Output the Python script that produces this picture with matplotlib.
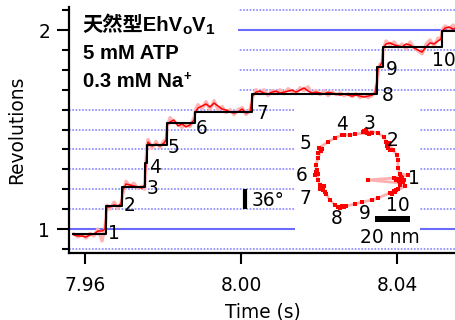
import matplotlib
matplotlib.use("Agg")
import matplotlib.pyplot as plt
from matplotlib.patches import Rectangle

# ---- trace: time (s) vs revolutions ----
red_time = [7.95718, 7.95821, 7.95923, 7.96026, 7.96128, 7.96231, 7.96333, 7.96436, 7.96513, 7.96538,
            7.96564, 7.96641, 7.96744, 7.96846, 7.96923, 7.96974, 7.97051, 7.97154, 7.97256, 7.97359,
            7.97462, 7.97526, 7.97551, 7.97564, 7.97590, 7.97615, 7.97718, 7.97821, 7.97923, 7.98026,
            7.98077, 7.98103, 7.98179, 7.98282, 7.98385, 7.98487, 7.98590, 7.98692, 7.98795, 7.98833,
            7.98897, 7.99000, 7.99103, 7.99205, 7.99308, 7.99410, 7.99513, 7.99615, 7.99718, 7.99821,
            7.99923, 8.00026, 8.00128, 8.00231, 8.00295, 8.00385, 8.00487, 8.00590, 8.00692, 8.00795,
            8.00897, 8.01000, 8.01103, 8.01205, 8.01308, 8.01410, 8.01513, 8.01615, 8.01718, 8.01821,
            8.01923, 8.02026, 8.02128, 8.02231, 8.02333, 8.02436, 8.02538, 8.02641, 8.02744, 8.02846,
            8.02949, 8.03051, 8.03154, 8.03256, 8.03359, 8.03436, 8.03487, 8.03513, 8.03564, 8.03615,
            8.03641, 8.03718, 8.03821, 8.03923, 8.04026, 8.04128, 8.04231, 8.04333, 8.04436, 8.04538,
            8.04641, 8.04744, 8.04846, 8.04949, 8.05051, 8.05128, 8.05154, 8.05231, 8.05333, 8.05436,
            8.05513]
red_rev = [0.970, 0.965, 0.965, 0.960, 0.970, 0.975, 0.990, 0.990, 1.000, 1.070,
           1.111, 1.111, 1.121, 1.116, 1.126, 1.196, 1.226, 1.221, 1.216, 1.211,
           1.206, 1.221, 1.296, 1.332, 1.397, 1.437, 1.417, 1.427, 1.417, 1.432,
           1.447, 1.523, 1.538, 1.548, 1.518, 1.528, 1.513, 1.523, 1.548, 1.588,
           1.608, 1.618, 1.628, 1.613, 1.633, 1.618, 1.603, 1.598, 1.588, 1.583,
           1.588, 1.603, 1.583, 1.588, 1.668, 1.688, 1.693, 1.683, 1.678, 1.688,
           1.693, 1.683, 1.688, 1.693, 1.698, 1.688, 1.698, 1.709, 1.693, 1.683,
           1.688, 1.683, 1.678, 1.688, 1.683, 1.678, 1.673, 1.678, 1.673, 1.668,
           1.673, 1.668, 1.663, 1.668, 1.673, 1.683, 1.749, 1.809, 1.819, 1.839,
           1.910, 1.930, 1.935, 1.925, 1.920, 1.915, 1.930, 1.925, 1.910, 1.899,
           1.889, 1.915, 1.935, 1.930, 1.945, 1.955, 1.995, 2.010, 2.015, 2.005,
           2.010]
pink_rev = [0.975, 0.960, 0.972, 0.955, 0.978, 0.965, 1.000, 0.940, 1.010, 1.050,
            1.120, 1.100, 1.135, 1.105, 1.130, 1.180, 1.240, 1.215, 1.230, 1.205,
            1.215, 1.200, 1.290, 1.340, 1.420, 1.450, 1.405, 1.440, 1.410, 1.445,
            1.430, 1.510, 1.560, 1.535, 1.530, 1.510, 1.530, 1.515, 1.560, 1.600,
            1.625, 1.605, 1.640, 1.600, 1.645, 1.600, 1.615, 1.585, 1.600, 1.575,
            1.600, 1.610, 1.575, 1.600, 1.660, 1.700, 1.680, 1.700, 1.670, 1.695,
            1.685, 1.700, 1.680, 1.705, 1.690, 1.680, 1.710, 1.695, 1.715, 1.680,
            1.695, 1.675, 1.695, 1.670, 1.690, 1.675, 1.685, 1.670, 1.680, 1.665,
            1.680, 1.660, 1.675, 1.660, 1.670, 1.690, 1.740, 1.800, 1.830, 1.825,
            1.900, 1.945, 1.925, 1.940, 1.915, 1.930, 1.905, 1.940, 1.910, 1.895,
            1.880, 1.930, 1.950, 1.920, 1.960, 1.950, 2.000, 2.020, 2.005, 2.025,
            2.010]

# fitted staircase
step_time = [7.95700, 7.96531, 7.96956, 7.97538, 7.97590, 7.98095, 7.98821, 8.00282,
             8.03479, 8.03633, 8.05146, 8.05510]
step_rev = [0.975, 1.116, 1.210, 1.332, 1.422, 1.531, 1.589, 1.677, 1.813, 1.916, 1.996, 1.996]

step_names = ["1", "2", "3", "4", "5", "6", "7", "8", "9", "10"]
step_name_time = [7.96744, 7.97146, 7.97731, 7.97787, 7.98277, 7.99000, 8.00538, 8.03756, 8.03864, 8.05192]
step_name_rev = [0.978, 1.118, 1.2045, 1.3075, 1.4095, 1.506, 1.578, 1.669, 1.803, 1.845]

dotted_levels = [0.9, 1.1, 1.2, 1.3, 1.4, 1.5, 1.6, 1.7, 1.8, 1.9, 2.1]
solid_levels = [1.0, 2.0]

# ---- inset: x-y trajectory in nm ----
ring_x = [24.0, 22.3, 24.6, 21.7, 23.4, 20.6, 25.1, 22.8, 4.6, 19.4, 27.4, 22.8, 21.7, 21.7, 21.1, 18.8,
          16.6, 15.4, 16.0, 14.8, 17.1, 13.7, 10.3,
          3.4, 2.3, 4.0, 1.7, 5.1, 6.9, -2.9, -5.7,
          -9.1, -10.3, -14.3, -18.3,
          -23.4, -22.3, -24.0, -21.7, -24.0, -25.1,
          -25.1, -24.0, -25.7, -24.6, -24.0, -22.8,
          -22.3, -21.1, -20.6, -22.8, -20.0, -19.4, -17.1, -14.3,
          -12.6, -10.3, -9.1, -11.4, -8.0, -2.9, 1.1,
          6.9, 10.3,
          17.1, 19.4, 20.6, 18.3, 21.7, 20.0, 25.7, 22.8]
ring_y = [-4.6, -6.3, -6.9, -5.1, -4.0, -5.7, -5.7, -7.4, -5.7, -4.6, -2.9, -2.3, 1.1, 5.7, 8.6, 11.4,
          15.4, 13.7, 12.6, 16.0, 11.4, 18.8, 21.1,
          22.8, 22.3, 21.1, 21.7, 20.6, 21.1, 20.6, 20.0,
          20.0, 20.0, 18.3, 16.0,
          12.6, 10.8, 9.7, 12.0, 6.9, 2.9,
          -1.1, -2.3, -2.9, 0.0, -5.7, -8.6,
          -9.7, -11.4, -9.1, -10.8, -12.6, -13.7, -17.1, -20.0,
          -21.1, -20.6, -21.1, -21.7, -20.6, -19.4, -18.3,
          -17.1, -16.0,
          -13.1, -12.0, -11.4, -13.7, -10.8, -12.6, -9.1, -8.6]
ring_name_x = [30.8, 18.8, 5.7, -10.3, -31.4, -33.1, -31.4, -13.1, 2.9, 21.7]
ring_name_y = [-4.6, 17.1, 26.8, 25.7, 15.4, -2.9, -16.0, -27.4, -24.6, -20.0]

plt.rcParams["font.family"] = "DejaVu Sans"
plt.rcParams["font.size"] = 13.4

fig = plt.figure(figsize=(4.56, 3.2), dpi=100)
ax = fig.add_axes([69 / 456, 67.3 / 320, 387 / 456, 245.7 / 320])

for lv in dotted_levels:
    ax.axhline(lv, color="#7b7bff", lw=1.1, ls=(0, (1.1, 1.05)), zorder=1)
for lv in solid_levels:
    ax.axhline(lv, color="#6a6aff", lw=1.5, zorder=1)

# white area behind the title block
ax.add_patch(Rectangle((0, 0.6296), 0.4367, 0.38, transform=ax.transAxes,
                       facecolor="white", edgecolor="none", zorder=1.5, clip_on=False))

ax.plot(red_time, pink_rev, color="#ffb4b4", lw=2.4, zorder=2)
ax.plot(red_time, red_rev, color="#ff0000", lw=1.1, zorder=3)
ax.step(step_time, step_rev, where="post", color="black", lw=1.5, zorder=4)

for name, t, r in zip(step_names, step_name_time, step_name_rev):
    ax.text(t, r, name, ha="center", va="center", zorder=5)

# 36 degree bar
ax.plot([8.0011, 8.0011], [1.1, 1.2], color="black", lw=3, solid_capstyle="butt", zorder=5)
ax.text(8.00274, 1.141, "36°", ha="left", va="center", zorder=5)

ax.set_xlim(7.9559, 8.0551)
ax.set_ylim(0.881, 2.1156)
ax.set_xticks([7.96, 8.00, 8.04])
ax.set_xticklabels(["7.96", "8.00", "8.04"])
ax.set_yticks([1, 2])
ax.set_yticklabels(["1", "2"])
ax.set_yticks([0.9, 1.1, 1.2, 1.3, 1.4, 1.5, 1.6, 1.7, 1.8, 1.9, 2.1], minor=True)
ax.tick_params(axis="y", which="major", length=8.5, width=1.5, pad=5)
ax.tick_params(axis="y", which="minor", length=5, width=1.5)
ax.tick_params(axis="x", which="major", length=8, width=1.5, pad=9)
for s in ["top", "right"]:
    ax.spines[s].set_visible(False)
for s in ["left", "bottom"]:
    ax.spines[s].set_linewidth(1.6)
ax.set_xlabel("Time (s)", labelpad=5)
ax.set_ylabel("Revolutions", labelpad=9)

# title block
bold = dict(family=["Liberation Sans", "Noto Sans CJK SC"], weight="bold", size=14.6)
x0 = 0.0349
t1 = ax.text(x0, 0.904, "天然型EhV", transform=ax.transAxes, va="baseline", **bold)
sub = dict(family=["Liberation Sans"], weight="bold", size=11)
t2 = ax.annotate("o", xy=(1, 0.904), xycoords=(t1, "axes fraction"), xytext=(0, -2.3),
                 textcoords="offset points", va="baseline", **sub)
t3 = ax.annotate("V", xy=(1, 0.904), xycoords=(t2, "axes fraction"), va="baseline", **bold)
ax.annotate("1", xy=(1, 0.904), xycoords=(t3, "axes fraction"), xytext=(0, -2.8),
            textcoords="offset points", va="baseline", **sub)
ax.text(x0, 0.787, "5 mM ATP", transform=ax.transAxes, va="baseline", **bold)
t4 = ax.text(x0, 0.676, "0.3 mM Na", transform=ax.transAxes, va="baseline", **bold)
ax.annotate("+", xy=(1, 0.676), xycoords=(t4, "axes fraction"), xytext=(0.3, 4.5),
            textcoords="offset points", va="baseline", family=["Liberation Sans"],
            weight="bold", size=9.5)

# inset with the rotation trajectory
ins = fig.add_axes([295 / 456, 75 / 320, 125 / 456, 143 / 320])
ins.set_facecolor("white")
ins.set_xticks([])
ins.set_yticks([])
for s in ins.spines.values():
    s.set_visible(False)
ins.plot(ring_x + ring_x[:1], ring_y + ring_y[:1], color="#ffb0b0", lw=2.0, zorder=2)
ins.plot(ring_x, ring_y, ls="none", marker="s", ms=2.4, color="#ff0000", mew=0, zorder=3)
for name, x, y in zip(step_names, ring_name_x, ring_name_y):
    ins.text(x, y, name, ha="center", va="center", clip_on=False)
ins.add_patch(Rectangle((8.6, -29.7), 20, 3.4, facecolor="black", edgecolor="none"))
ins.text(17.1, -38.3, "20 nm", ha="center", va="center", clip_on=False)
ins.set_xlim(-37.1, 34.3)
ins.set_ylim(-42.8, 38.8)

fig.savefig("out.png", dpi=100)
